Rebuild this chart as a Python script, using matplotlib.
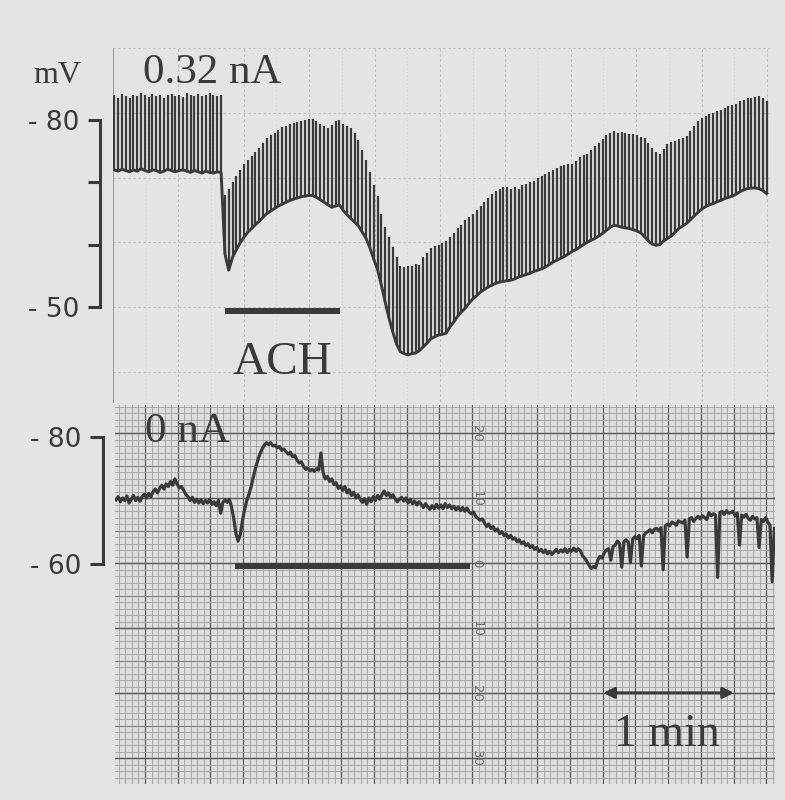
import numpy as np
import matplotlib
matplotlib.use("Agg")
import matplotlib.pyplot as plt

# ---- upper record, 0.32 nA hyperpolarizing pulses ----
# one value per pulse (mV): resting level and tip of the pulse
pulse_base = [
    -72.0, -71.8, -72.1, -71.9, -71.7, -72.0, -71.8, -72.2, -71.9, -71.7,
    -72.0, -71.9, -71.6, -71.8, -72.1, -71.9, -71.7, -71.9, -72.0, -71.8,
    -71.6, -71.9, -71.7, -71.5, -71.8, -71.6, -71.5, -71.7, -71.6,
    -58.5, -55.9, -58.0, -59.2, -60.3, -61.2, -62.0, -62.6, -63.2, -63.8, -64.4,
    -65.0, -65.4, -65.8, -66.2, -66.5, -66.8, -67.1, -67.3, -67.5, -67.7,
    -67.8, -67.9, -67.9, -67.6, -67.2, -66.8, -66.4, -66.0, -66.2, -66.4,
    -65.5, -64.8, -64.2, -63.6, -63.0, -62.0, -61.0, -59.5, -57.7, -56.0,
    -53.5, -50.8, -48.2, -46.0, -44.0, -42.8, -42.5, -42.3, -42.5, -42.6,
    -43.0, -43.6, -44.2, -44.9, -45.2, -45.5, -45.6, -45.8, -46.8, -47.6,
    -48.5, -49.2, -49.8, -50.6, -51.3, -51.8, -52.4, -52.8, -53.2, -53.5,
    -53.8, -54.0, -54.1, -54.2, -54.3, -54.5, -54.8, -55.0, -55.2, -55.4,
    -55.7, -55.9, -56.1, -56.4, -56.8, -57.2, -57.5, -57.8, -58.1, -58.5,
    -58.9, -59.2, -59.6, -60.0, -60.4, -60.7, -61.0, -61.4, -61.8, -62.3,
    -62.8, -63.1, -63.0, -62.8, -62.7, -62.6, -62.4, -62.2, -61.9, -61.3,
    -60.6, -60.1, -59.9, -60.0, -60.6, -61.0, -61.4, -62.0, -62.6, -63.0,
    -63.4, -64.0, -64.6, -65.2, -65.7, -66.1, -66.4, -66.6, -66.9, -67.1,
    -67.4, -67.6, -67.8, -68.1, -68.5, -68.8, -69.0, -69.1, -69.1, -69.0,
    -68.7, -68.2,
]
pulse_peak = [
    -84.0, -83.6, -84.2, -83.8, -83.5, -84.1, -83.9, -84.3, -84.0, -83.7,
    -84.2, -83.9, -84.1, -83.6, -84.0, -84.2, -83.8, -84.1, -83.7, -84.3,
    -84.0, -83.8, -84.2, -83.9, -84.1, -84.3, -84.0, -83.8, -84.1,
    -67.9, -68.9, -70.0, -71.0, -72.0, -72.9, -73.6, -74.3, -74.9, -75.6, -76.3,
    -77.1, -77.6, -78.0, -78.4, -78.9, -79.1, -79.3, -79.5, -79.7, -79.9,
    -80.0, -80.2, -80.2, -79.9, -79.4, -79.0, -78.7, -79.2, -79.8, -80.0,
    -79.4, -79.0, -78.8, -78.0, -76.8, -75.2, -73.6, -71.6, -69.6, -67.8,
    -65.0, -62.8, -61.2, -59.6, -58.0, -56.6, -56.4, -56.6, -56.5, -56.9,
    -56.7, -58.0, -58.6, -59.4, -59.8, -59.9, -60.2, -60.6, -61.3, -61.8,
    -62.6, -63.2, -63.9, -64.4, -65.0, -65.6, -66.2, -66.9, -67.5, -68.2,
    -68.6, -69.0, -69.3, -69.2, -69.0, -69.3, -69.0, -69.6, -69.8, -70.0,
    -70.3, -70.7, -71.0, -71.4, -71.6, -72.0, -72.3, -72.6, -72.8, -72.9,
    -73.0, -73.4, -74.0, -74.4, -74.6, -75.2, -75.8, -76.4, -77.0, -77.6,
    -78.0, -78.2, -78.0, -78.1, -77.9, -77.8, -77.8, -77.6, -77.3, -77.1,
    -76.4, -75.6, -74.8, -74.6, -75.4, -76.2, -76.5, -76.7, -77.0, -77.2,
    -77.4, -78.2, -79.0, -79.8, -80.3, -80.7, -81.0, -81.1, -81.4, -81.6,
    -81.9, -82.2, -82.4, -82.6, -83.0, -83.3, -83.5, -83.6, -83.7, -83.8,
    -83.6, -83.0,
]
pulse_first = 0.6     # s
pulse_period = 1.75   # s

# ---- lower record, 0 nA, one sample per second (mV) ----
trace_0nA = [
    -70.1, -70.6, -69.8, -70.4, -70.0, -70.7, -69.6, -70.2, -70.8, -70.0,
    -70.5, -69.9, -70.6, -71.0, -70.4, -71.1, -70.6, -71.4, -71.8, -71.2,
    -71.9, -72.4, -71.8, -72.6, -72.2, -73.0, -72.4, -73.4, -72.6, -72.0,
    -72.2, -71.6, -71.0, -70.6, -70.0, -70.5, -69.7, -70.2, -69.6, -70.1,
    -69.5, -70.0, -69.6, -70.2, -69.4, -69.8, -69.2, -70.0, -68.0, -69.7,
    -70.1, -69.7, -70.2, -69.0, -67.2, -64.8, -63.6, -64.6, -66.8, -68.6,
    -70.0, -71.0, -72.2, -73.7, -75.1, -76.3, -77.3, -78.1, -78.7, -79.1,
    -78.8, -79.1, -78.6, -78.7, -78.3, -78.5, -77.9, -78.1, -77.7, -77.3,
    -77.6, -76.9, -77.1, -76.4, -75.9, -76.1, -75.4, -74.9, -75.1, -74.7,
    -74.9, -74.6, -75.0, -74.8, -77.5, -74.4, -73.4, -73.8, -73.0, -73.4,
    -72.5, -72.8, -71.9, -72.3, -71.6, -72.2, -71.2, -71.7, -70.8, -71.3,
    -70.4, -70.9, -70.2, -69.7, -70.3, -69.4, -70.4, -69.8, -70.6, -70.0,
    -70.8, -70.2, -70.9, -71.5, -70.8, -71.2, -70.5, -70.9, -70.3, -69.8,
    -70.2, -70.5, -69.9, -70.4, -69.6, -70.2, -69.5, -69.9, -69.3, -69.8,
    -69.4, -68.9, -69.5, -69.0, -68.6, -69.2, -68.7, -69.4, -68.8, -69.3,
    -68.7, -69.5, -68.9, -69.3, -68.7, -69.1, -68.5, -69.0, -68.4, -68.9,
    -68.3, -68.8, -68.2, -67.9, -68.2, -67.5, -67.2, -66.9, -67.1, -66.5,
    -65.9, -66.3, -65.6, -65.9, -65.2, -65.5, -64.8, -65.1, -64.5, -64.7,
    -64.1, -64.5, -63.9, -64.1, -63.5, -63.8, -63.2, -63.5, -62.9, -63.2,
    -62.6, -62.9, -62.3, -62.6, -62.0, -62.3, -61.8, -62.2, -61.6, -62.0,
    -61.5, -61.9, -62.3, -61.8, -62.2, -61.9, -62.4, -61.8, -62.3, -62.0,
    -62.5, -62.0, -62.4, -62.1, -61.3, -60.9, -60.4, -59.8, -59.3, -59.6,
    -59.4, -60.6, -61.2, -60.9, -61.8, -62.2, -62.4, -60.6, -62.7, -63.0,
    -63.6, -63.2, -59.5, -63.5, -63.8, -63.4, -60.2, -63.9, -64.3, -64.0,
    -64.5, -59.7, -64.4, -64.9, -65.1, -65.4, -64.9, -65.5, -65.6, -65.2,
    -65.7, -59.1, -66.0, -66.3, -66.0, -66.6, -66.4, -66.1, -66.8, -66.6,
    -66.5, -66.9, -61.1, -67.1, -67.3, -66.7, -67.2, -67.5, -67.1, -67.6,
    -67.3, -67.0, -68.1, -67.6, -67.9, -67.7, -57.9, -68.1, -68.3, -67.8,
    -68.4, -68.0, -68.1, -68.3, -67.6, -68.0, -63.0, -67.7, -67.4, -67.8,
    -67.2, -66.9, -67.5, -67.1, -67.3, -62.6, -67.0, -66.7, -67.3, -66.6,
    -66.1, -57.2, -65.6,
]

# ACh application bars (s) and time calibration
ach_top = (51.4, 104.1)
ach_bottom = (54.6, 162.4)
scale_bar = (223.5, 283.5)

ink = "#3a3a3a"
paper = "#e4e4e4"
serif = "Liberation Serif"
sans = "DejaVu Sans"

fig = plt.figure(figsize=(7.85, 8), dpi=100, facecolor=paper)

# ---------------- upper panel ----------------
ax1 = fig.add_axes([113 / 785, 1 - 403 / 800, 657 / 785, 403 / 800])
ax1.set_facecolor(paper)
ax1.set_xlim(0, 301.4)
ax1.set_ylim(-34.57, -99.29)

# faint chart-paper grid
for v in np.arange(30, 301, 30):
    ax1.plot([v, v], [-91.4, -34.6], color="#b9b9b9", lw=0.8, ls=(0, (2, 2.5)), zorder=1)
for v in np.arange(15, 301, 30):
    ax1.plot([v, v], [-91.4, -34.6], color="#d0d0d0", lw=0.6, ls=(0, (1.5, 3)), zorder=1)
for h in -50 - 10.38 * np.arange(-1, 5):
    ax1.plot([0, 301], [h, h], color="#c0c0c0", lw=0.8, ls=(0, (2, 2.5)), zorder=1)
ax1.plot([0, 0], [-91.4, -34.6], color="#8a8a8a", lw=1.2, zorder=1)

t_pulse = pulse_first + pulse_period * np.arange(len(pulse_base))
ax1.vlines(t_pulse, pulse_base, pulse_peak, color=ink, lw=1.6, zorder=3)
ax1.plot(t_pulse, pulse_base, color=ink, lw=2.1, zorder=3)

ax1.plot(ach_top, [-49.3, -49.3], color=ink, lw=4.3, solid_capstyle="butt")
ax1.text(55.0, -39.3, "ACH", family=serif, fontsize=34, color=ink, va="baseline")
ax1.text(13.8, -85.9, "0.32 nA", family=serif, fontsize=31, color=ink, va="baseline")
ax1.text(-36.7, -85.9, "mV", family=serif, fontsize=23, color=ink, va="baseline")

for s in ["top", "right", "bottom"]:
    ax1.spines[s].set_visible(False)
ax1.spines["left"].set_position(("outward", 9.4))
ax1.spines["left"].set_bounds(-80, -50)
ax1.spines["left"].set_linewidth(2.2)
ax1.spines["left"].set_color(ink)
ax1.set_xticks([])
ax1.set_yticks([-80, -70, -60, -50])
ax1.set_yticklabels(["- 80", "", "", "- 50"], family=sans)
ax1.tick_params(axis="y", length=8.6, width=2.2, pad=6, labelsize=19, colors=ink)

# ---------------- lower panel ----------------
ax2 = fig.add_axes([115 / 785, 16 / 800, 660 / 785, 379 / 800])
ax2.set_facecolor("#dedede")
ax2.set_xlim(-0.46, 302.3)
ax2.set_ylim(-25.35, -85.04)

for v in np.arange(1.3, 303, 3.0):
    ax2.axvline(v, color="#a2a2a2", lw=0.6, zorder=1)
for v in np.arange(-1.7, 303, 15.0):
    ax2.axvline(v, color="#5e5e5e", lw=0.9, zorder=1)
for i, h in enumerate(-80.63 - 4 * 1.024 + 1.024 * np.arange(62)):
    if i % 10 == 4:
        ax2.axhline(h, color="#585858", lw=1.0, zorder=1)
    elif i % 5 == 4:
        ax2.axhline(h, color="#7e7e7e", lw=0.8, zorder=1)
    else:
        ax2.axhline(h, color="#a2a2a2", lw=0.6, zorder=1)

# printed scale on the paper
for lab, h in zip(["20", "10", "0", "10", "20", "30"],
                  -80.63 + 10.24 * np.arange(6)):
    ax2.text(165.5, h, lab, rotation=-90, fontsize=9.5, color="#6e6e6e",
             ha="center", va="center", zorder=2)

t_sec = np.arange(len(trace_0nA))
ax2.plot(t_sec, trace_0nA, color=ink, lw=2.3, zorder=3)

ax2.plot(ach_bottom, [-59.7, -59.7], color=ink, lw=4.3, solid_capstyle="butt", zorder=3)
ax2.annotate("", xy=(scale_bar[0], -39.7), xytext=(scale_bar[1], -39.7),
             arrowprops=dict(arrowstyle="<|-|>", color=ink, lw=2.2,
                             mutation_scale=16, shrinkA=0, shrinkB=0), zorder=4)
ax2.text(252.8, -31.4, "1 min", family=serif, fontsize=33, color=ink,
         ha="center", va="baseline", zorder=4)
ax2.text(13.3, -79.2, "0 nA", family=serif, fontsize=31, color=ink, va="baseline", zorder=4)

for s in ["top", "right", "bottom"]:
    ax2.spines[s].set_visible(False)
ax2.spines["left"].set_position(("outward", 8.6))
ax2.spines["left"].set_bounds(-80, -60)
ax2.spines["left"].set_linewidth(2.2)
ax2.spines["left"].set_color(ink)
ax2.set_xticks([])
ax2.set_yticks([-80, -60])
ax2.set_yticklabels(["- 80", "- 60"], family=sans)
ax2.tick_params(axis="y", length=9.4, width=2.2, pad=6, labelsize=19, colors=ink)

fig.savefig("out.png", dpi=100, facecolor=paper)
